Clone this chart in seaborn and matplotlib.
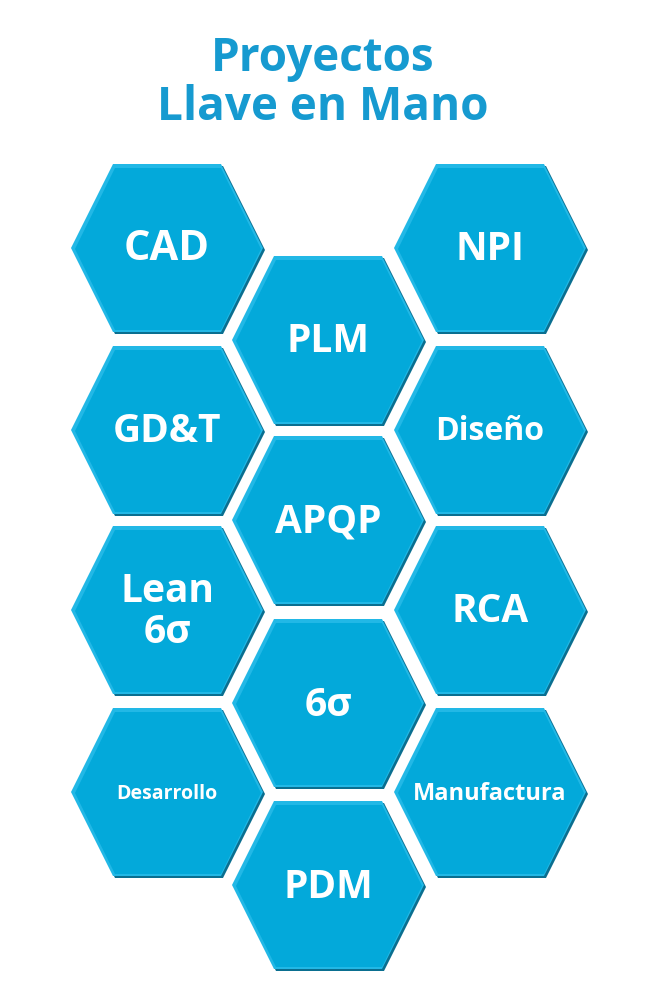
import matplotlib
matplotlib.use("Agg")
import matplotlib.pyplot as plt
from matplotlib.patches import Polygon
import seaborn as sns

labels = ["CAD", "GD&T", "Lean\n6σ", "Desarrollo",
          "PLM", "APQP", "6σ", "PDM",
          "NPI", "Diseño", "RCA", "Manufactura"]
col_x = [167, 167, 167, 167, 328, 328, 328, 328, 490, 490, 490, 490]
row_y = [248, 430, 610, 792, 340, 520, 703, 885, 248, 430, 610, 792]
font_sizes = [30, 28, 28, 14, 28, 28, 28, 28, 28, 23, 28, 17]

sns.set_theme(style="white")
plt.rcParams['font.family'] = ['Open Sans', 'DejaVu Sans']

fig = plt.figure(figsize=(6.47, 10), dpi=100)
ax = fig.add_axes([0, 0, 1, 1])
ax.set_xlim(0, 647)
ax.set_ylim(1000, 0)
ax.axis("off")

def hexagon(cx, cy, hw, ht, hh):
    return [(cx - hw, cy), (cx - ht, cy - hh), (cx + ht, cy - hh),
            (cx + hw, cy), (cx + ht, cy + hh), (cx - ht, cy + hh)]

for lab, x, y, fs in zip(labels, col_x, row_y, font_sizes):
    # shadow / dark rim
    ax.add_patch(Polygon(hexagon(x + 2, y + 2, 96, 54, 84), closed=True,
                         facecolor="#0a6f90", edgecolor="none"))
    ax.add_patch(Polygon(hexagon(x, y, 96, 54, 84), closed=True,
                         facecolor="#22b8e6", edgecolor="none"))
    ax.add_patch(Polygon(hexagon(x + 1, y + 1, 93, 53, 81), closed=True,
                         facecolor="#03a9da", edgecolor="none"))
    ax.text(x, y + 2, lab, ha="center", va="center", color="white",
            fontsize=fs, fontweight="bold", linespacing=1.05)

ax.text(323, 83, "Proyectos\nLlave en Mano", ha="center", va="center",
        color="#169ad0", fontsize=33, fontweight="bold", linespacing=1.05)

fig.savefig("out.png", dpi=100)
